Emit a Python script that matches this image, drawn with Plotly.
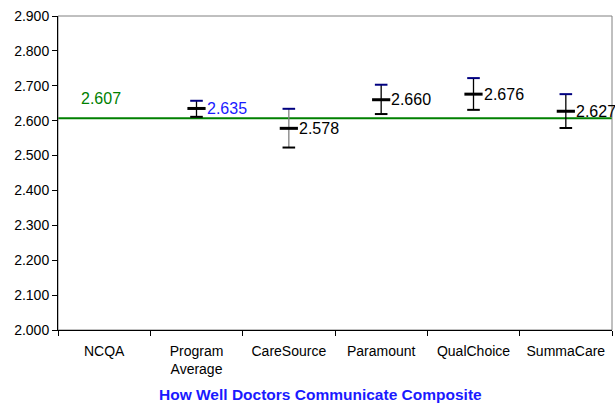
import plotly.graph_objects as go

categories = ["NCQA", "Program<br>Average", "CareSource", "Paramount", "QualChoice", "SummaCare"]
plan_names = ["Program<br>Average", "CareSource", "Paramount", "QualChoice", "SummaCare"]
means = [2.635, 2.578, 2.660, 2.676, 2.627]
upper = [2.657, 2.634, 2.703, 2.722, 2.676]
lower = [2.611, 2.523, 2.619, 2.631, 2.579]
value_colors = ["#1a1aff", "#000000", "#000000", "#000000", "#000000"]
stem_colors = ["#000000", "#808080", "#000000", "#000000", "#000000"]
ncqa_value = 2.607
y_ticks = [2.0, 2.1, 2.2, 2.3, 2.4, 2.5, 2.6, 2.7, 2.8, 2.9]
title_text = "How Well Doctors Communicate Composite"

fig = go.Figure()

# invisible trace to fix category order
fig.add_trace(go.Scatter(x=categories, y=[None] * len(categories), mode="markers",
                         showlegend=False, hoverinfo="skip"))

for name, m, u, l, sc in zip(plan_names, means, upper, lower, stem_colors):
    fig.add_trace(go.Scatter(x=[name, name], y=[l, u], mode="lines",
                             line=dict(color=sc, width=1.3), showlegend=False))
    fig.add_trace(go.Scatter(x=[name], y=[u], mode="markers",
                             marker=dict(symbol="line-ew", size=9,
                                         line=dict(color="#000080", width=2)),
                             showlegend=False))
    fig.add_trace(go.Scatter(x=[name], y=[l], mode="markers",
                             marker=dict(symbol="line-ew", size=9,
                                         line=dict(color="#000000", width=2)),
                             showlegend=False))
    fig.add_trace(go.Scatter(x=[name], y=[m], mode="markers",
                             marker=dict(symbol="line-ew", size=13,
                                         line=dict(color="#000000", width=3)),
                             showlegend=False))

# NCQA benchmark line
fig.add_shape(type="line", xref="paper", x0=0, x1=1, yref="y", y0=ncqa_value, y1=ncqa_value,
              line=dict(color="#008000", width=2), layer="below")
# gray frame
fig.add_shape(type="rect", xref="paper", yref="paper", x0=0, x1=1, y0=0, y1=1,
              line=dict(color="#808080", width=1), layer="below")

annotations = [dict(x=categories[0], y=ncqa_value, text=f"{ncqa_value:.3f}", showarrow=False,
                    xanchor="center", yanchor="middle", xshift=-3, yshift=20,
                    font=dict(color="#008000", size=16))]
for name, m, c in zip(plan_names, means, value_colors):
    annotations.append(dict(x=name, y=m, text=f"{m:.3f}", showarrow=False,
                            xanchor="left", yanchor="middle", xshift=8, yshift=0,
                            font=dict(color=c, size=16)))
annotations.append(dict(x=0.473, y=-0.207, xref="paper", yref="paper", yanchor="middle",
                        xanchor="center",
                        text=f"<b>{title_text}</b>", showarrow=False,
                        font=dict(color="#1a1aff", size=15.5)))

fig.update_layout(
    width=615, height=406,
    margin=dict(l=58, r=3, t=16, b=76),
    paper_bgcolor="white", plot_bgcolor="white",
    font=dict(family="Liberation Sans, Arial, sans-serif", size=14, color="#000000"),
    annotations=annotations,
    xaxis=dict(type="category", categoryorder="array", categoryarray=categories,
               range=[-0.5, len(categories) - 0.5],
               showgrid=False, showline=True, linecolor="#000000", linewidth=1,
               ticks="outside", ticklen=5, tickcolor="#000000", tickson="boundaries",
               ticklabelstandoff=8,
               tickfont=dict(size=14), zeroline=False, fixedrange=True),
    yaxis=dict(range=[2.0, 2.9], tickvals=y_ticks, tickformat=".3f",
               showgrid=False, showline=True, linecolor="#000000", linewidth=1,
               ticks="outside", ticklen=5, tickcolor="#000000", zeroline=False,
               tickfont=dict(size=14)),
)

fig.write_html("out.html", config={"displayModeBar": False},
               post_script="document.body.style.margin='0px';")
